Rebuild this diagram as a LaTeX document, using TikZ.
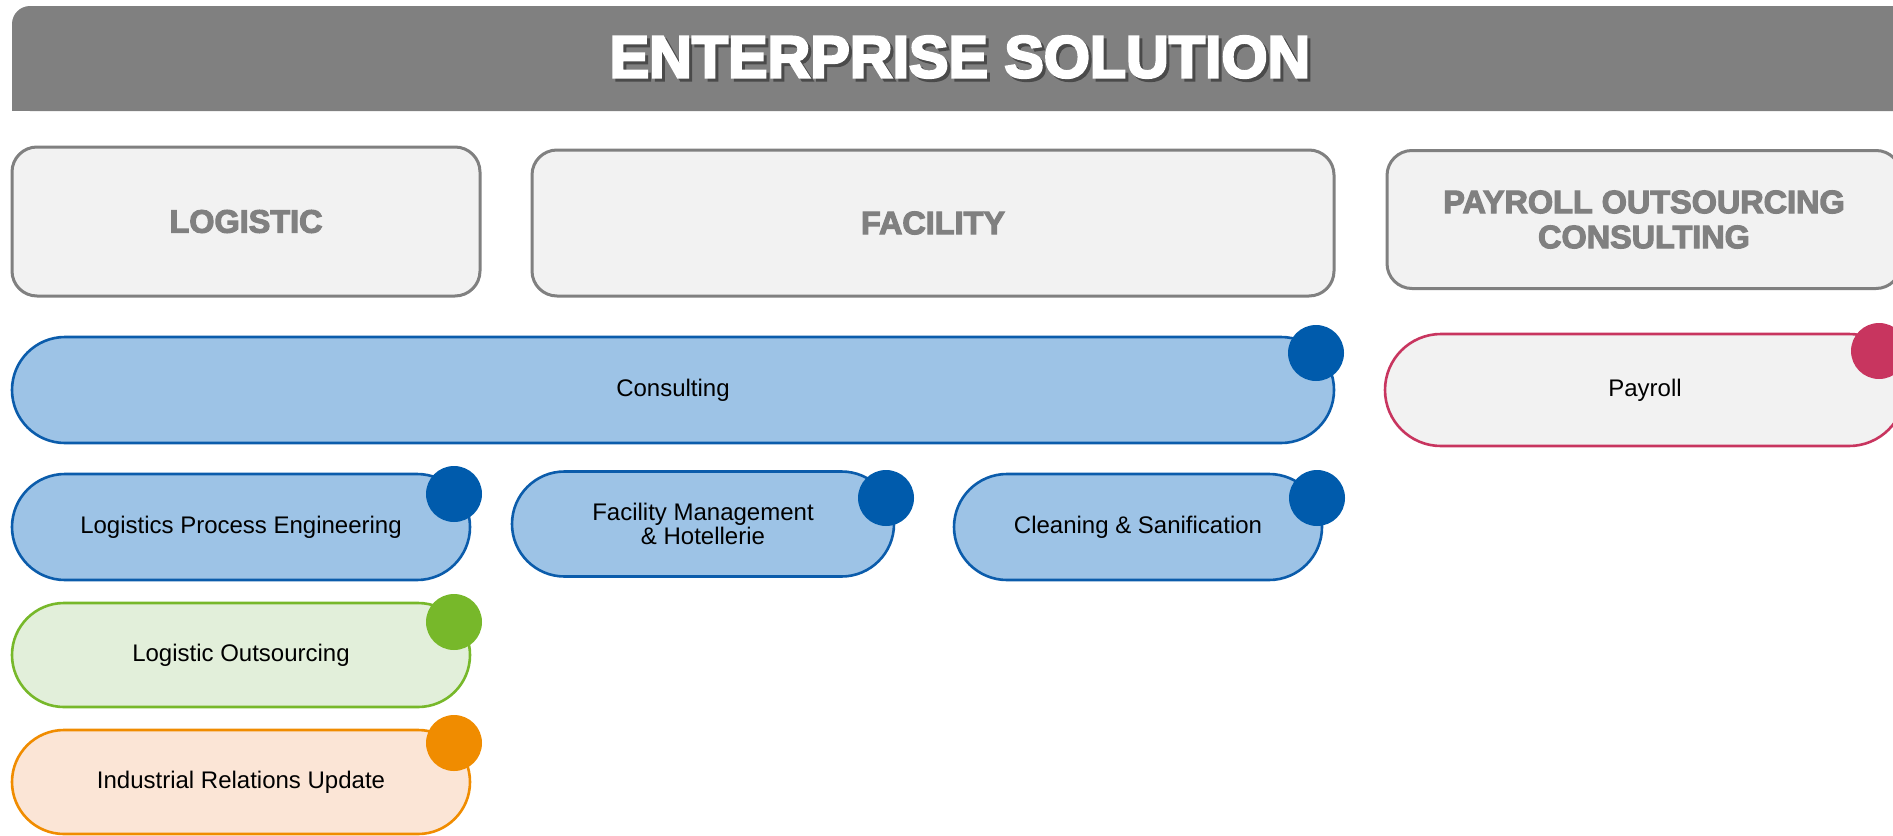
\documentclass[tikz,border=0pt]{standalone}
\usepackage{fontspec}
\setmainfont{Liberation Sans}
\newfontfamily\titlefont[FakeBold=4]{Liberation Sans Bold}
\newfontfamily\hdrfont[FakeBold=3.5]{Liberation Sans Bold}
\definecolor{titlegray}{HTML}{808080}
\definecolor{titleshadow}{HTML}{4A4A4A}
\definecolor{hdrfill}{HTML}{F2F2F2}
\definecolor{hdrdraw}{HTML}{808080}
\definecolor{hdrtext}{HTML}{808080}
\definecolor{bluefill}{HTML}{9DC3E6}
\definecolor{bluedraw}{HTML}{0B5CAB}
\definecolor{bluedot}{HTML}{005BAC}
\definecolor{greenfill}{HTML}{E2EFDA}
\definecolor{greendraw}{HTML}{77B82A}
\definecolor{orangefill}{HTML}{FBE5D6}
\definecolor{orangedraw}{HTML}{F08C00}
\definecolor{pinkdraw}{HTML}{C8355F}
\begin{document}
\begin{tikzpicture}[x=0.5pt,y=-0.5pt,
  hdr/.style={draw=hdrdraw, fill=hdrfill, line width=1.5pt, rounded corners=12.5pt,
    inner sep=0pt, text=hdrtext, font=\hdrfont\fontsize{16.2}{17.5}\selectfont, align=center},
  pillbox/.style={line width=1.3pt, inner sep=0pt, font=\fontsize{12}{10}\selectfont,
    align=center, text=black},
  bluepill/.style={pillbox, draw=bluedraw, fill=bluefill},
  greenpill/.style={pillbox, draw=greendraw, fill=greenfill},
  orangepill/.style={pillbox, draw=orangedraw, fill=orangefill},
  pinkpill/.style={pillbox, draw=pinkdraw, fill=hdrfill},
  dot/.style={circle, inner sep=0pt, minimum size=28pt},
]
\useasboundingbox (0,0) rectangle (1893,835);
\clip (0,0) rectangle (1893,835);
% title bar
\fill[titlegray, rounded corners=9pt] (12,6) rectangle (1960,111);
\fill[titlegray] (12,40) rectangle (1960,111);
\node[font=\titlefont\fontsize{29.6}{32}\selectfont, text=titleshadow, inner sep=0pt] (titleshadow) at (963,60) {ENTERPRISE SOLUTION};
\node[font=\titlefont\fontsize{29.6}{32}\selectfont, text=white, inner sep=0pt] (title) at (960,57) {ENTERPRISE SOLUTION};
% header boxes
\node[hdr, minimum width=234pt, minimum height=74.5pt] (logistic) at (246,221.5) {LOGISTIC};
\node[hdr, minimum width=401pt, minimum height=73pt] (facility) at (933,223) {FACILITY};
\node[hdr, minimum width=257pt, minimum height=69pt] (payhdr) at (1644,219.5) {PAYROLL OUTSOURCING\\CONSULTING};
% pills
\node[bluepill, minimum width=661pt, minimum height=53pt, rounded corners=26.5pt] (consulting) at (673,390) {Consulting};
\node[pinkpill, minimum width=260pt, minimum height=56pt, rounded corners=28pt] (payroll) at (1645,390) {Payroll};
\node[bluepill, minimum width=229pt, minimum height=53pt, rounded corners=26.5pt] (lpe) at (241,527) {Logistics Process Engineering};
\node[bluepill, minimum width=191pt, minimum height=52.5pt, rounded corners=26.25pt] (fm) at (703,524) {Facility Management\\\& Hotellerie};
\node[bluepill, minimum width=184pt, minimum height=53pt, rounded corners=26.5pt] (clean) at (1138,527) {Cleaning \& Sanification};
\node[greenpill, minimum width=229pt, minimum height=52pt, rounded corners=26pt] (lo) at (241,655) {Logistic Outsourcing};
\node[orangepill, minimum width=229pt, minimum height=52pt, rounded corners=26pt] (iru) at (241,782) {Industrial Relations Update};
% dots
\node[dot, fill=bluedot] (consultingdot) at (1316,353) {};
\node[dot, fill=pinkdraw] (payrolldot) at (1879,351) {};
\node[dot, fill=bluedot] (lpedot) at (454,494) {};
\node[dot, fill=bluedot] (fmdot) at (886,498) {};
\node[dot, fill=bluedot] (cleandot) at (1317,498) {};
\node[dot, fill=greendraw] (lodot) at (454,622) {};
\node[dot, fill=orangedraw] (irudot) at (454,743) {};
\end{tikzpicture}
\end{document}
